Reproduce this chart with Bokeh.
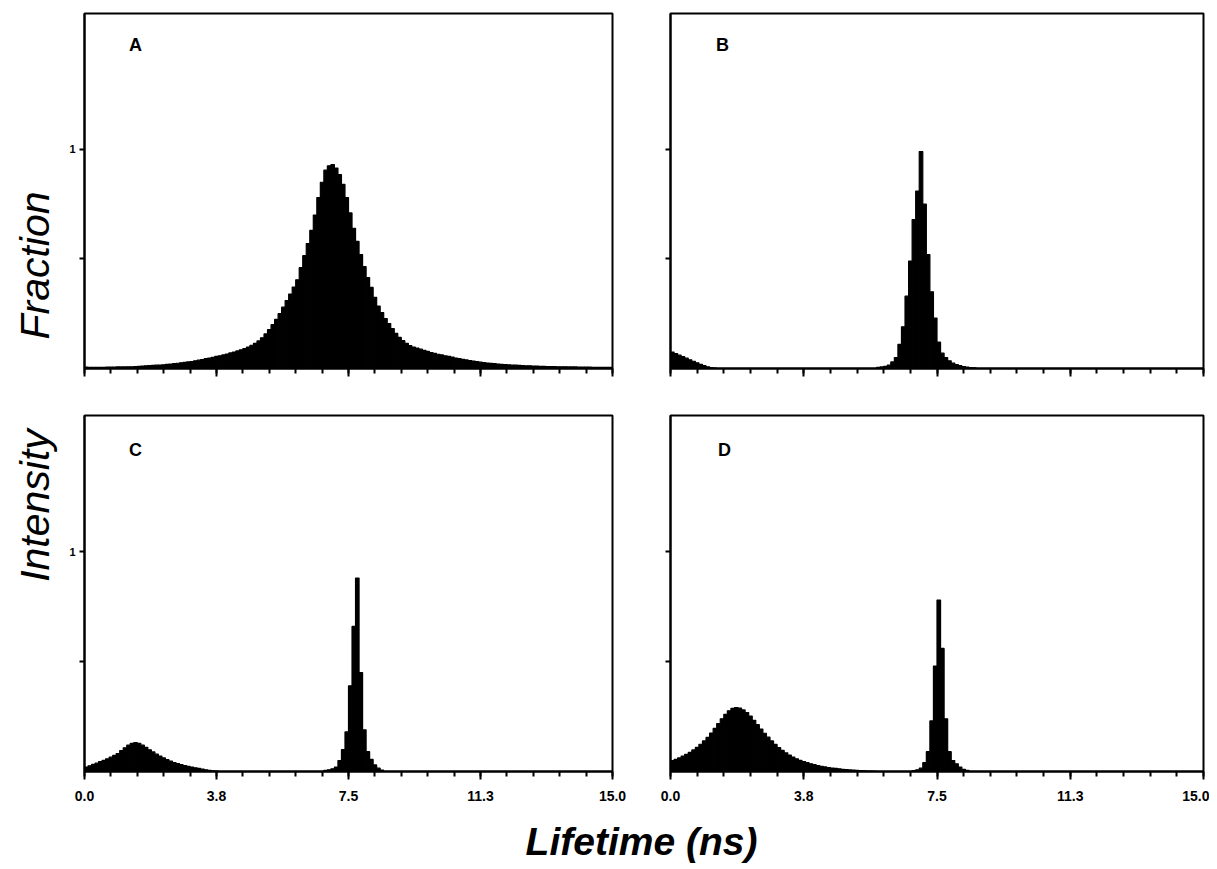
import math
from bokeh.plotting import figure
from bokeh.layouts import row, column
from bokeh.models import FixedTicker, Range1d, Label
from bokeh.embed import file_html
from bokeh.resources import INLINE

# ---------------- data (histogram bins of width 0.1 ns) ----------------
BIN_WIDTH = 0.1

a_start = 0.0
a_values = [
    0.006, 0.005, 0.005, 0.005, 0.005, 0.005, 0.006, 0.006, 0.006, 0.007,
    0.007, 0.007, 0.008, 0.008, 0.009, 0.010, 0.011, 0.012, 0.013, 0.014,
    0.015, 0.016, 0.017, 0.019, 0.020, 0.022, 0.024, 0.026, 0.028, 0.030,
    0.032, 0.035, 0.038, 0.041, 0.045, 0.048, 0.051, 0.055, 0.058, 0.062,
    0.066, 0.071, 0.075, 0.080, 0.085, 0.091, 0.098, 0.106, 0.115, 0.126,
    0.140, 0.158, 0.178, 0.200, 0.224, 0.250, 0.280, 0.310, 0.340, 0.372,
    0.405, 0.460, 0.515, 0.570, 0.630, 0.700, 0.780, 0.850, 0.905, 0.925,
    0.930, 0.915, 0.885, 0.840, 0.780, 0.710, 0.640, 0.580, 0.520, 0.465,
    0.415, 0.370, 0.325, 0.285, 0.255, 0.228, 0.205, 0.182, 0.160, 0.142,
    0.127, 0.115, 0.104, 0.098, 0.093, 0.088, 0.083, 0.078, 0.073, 0.069,
    0.065, 0.062, 0.058, 0.055, 0.052, 0.048, 0.045, 0.042, 0.039, 0.036,
    0.034, 0.031, 0.029, 0.027, 0.025, 0.023, 0.022, 0.020, 0.019, 0.018,
    0.017, 0.016, 0.015, 0.014, 0.013, 0.012, 0.012, 0.011, 0.011, 0.010,
    0.010, 0.009, 0.009, 0.009, 0.008, 0.008, 0.008, 0.007, 0.007, 0.007,
    0.006, 0.006, 0.006, 0.006, 0.005, 0.005, 0.005, 0.005, 0.005, 0.005,
]

b_low_start = 0.0
b_low_values = [0.075, 0.068, 0.061, 0.054, 0.047, 0.040, 0.033, 0.026,
                0.019, 0.013, 0.008, 0.004, 0.002]
b_peak_start = 5.8
b_peak_values = [0.005, 0.007, 0.010, 0.015, 0.030, 0.050, 0.110, 0.190,
                 0.330, 0.490, 0.680, 0.810, 0.990, 0.750, 0.520, 0.350,
                 0.230, 0.120, 0.070, 0.050, 0.035, 0.025, 0.018, 0.013,
                 0.009, 0.006, 0.004, 0.003]

c_low_start = 0.0
c_low_values = [0.020, 0.026, 0.032, 0.038, 0.045, 0.051, 0.058, 0.065,
                0.073, 0.082, 0.095, 0.108, 0.120, 0.128, 0.131, 0.128,
                0.120, 0.110, 0.099, 0.089, 0.079, 0.070, 0.062, 0.054,
                0.047, 0.041, 0.036, 0.031, 0.027, 0.023, 0.020, 0.017,
                0.014, 0.011, 0.008, 0.005, 0.003, 0.002]
c_peak_start = 6.8
c_peak_values = [0.005, 0.008, 0.012, 0.020, 0.050, 0.100, 0.180, 0.390,
                 0.660, 0.880, 0.450, 0.190, 0.090, 0.055, 0.030, 0.015,
                 0.006]

d_low_start = 0.0
d_low_values = [0.050, 0.055, 0.062, 0.070, 0.078, 0.087, 0.098, 0.110,
                0.124, 0.139, 0.155, 0.175, 0.196, 0.218, 0.240, 0.260,
                0.276, 0.287, 0.291, 0.288, 0.280, 0.268, 0.252, 0.233,
                0.213, 0.193, 0.174, 0.156, 0.139, 0.123, 0.109, 0.096,
                0.085, 0.075, 0.066, 0.058, 0.051, 0.045, 0.040, 0.035,
                0.031, 0.027, 0.024, 0.021, 0.018, 0.016, 0.014, 0.012,
                0.010, 0.009, 0.007, 0.006, 0.005, 0.004, 0.003, 0.002,
                0.002, 0.001]
d_peak_start = 6.8
d_peak_values = [0.004, 0.008, 0.015, 0.040, 0.090, 0.230, 0.480, 0.780,
                 0.560, 0.240, 0.090, 0.050, 0.035, 0.020, 0.010, 0.005]

x_major_ticks = [0, 3.75, 7.5, 11.25, 15]
x_tick_labels = ["0.0", "3.8", "7.5", "11.3", "15.0"]
x_minor_ticks = [0.75 * i for i in range(21)]
y_ticks = [0.5, 1.0]
y_tick_labels = ["", "1"]
panel_letters = ["A", "B", "C", "D"]
x_label = "Lifetime (ns)"
y_label_upper = "Fraction"
y_label_lower = "Intensity"

# ---------------- style / layout ----------------
FONT = "Liberation Sans"
X_MAX = 15.0
Y_MAX = 1.62


def add_bars(p, start, values):
    lefts = [round(start + i * BIN_WIDTH, 4) for i in range(len(values))]
    rights = [round(l + BIN_WIDTH, 4) for l in lefts]
    p.quad(left=lefts, right=rights, bottom=0, top=values,
           fill_color="black", line_color="black", line_width=1.2)


def make_panel(letter, fw, fh, bl, br, bt, bb, show_x, show_y, letter_x, letter_dy):
    p = figure(frame_width=fw, frame_height=fh,
               x_range=Range1d(0, X_MAX), y_range=Range1d(0, Y_MAX),
               output_backend="svg", toolbar_location=None,
               min_border_left=bl, min_border_right=br,
               min_border_top=bt, min_border_bottom=bb)
    p.title.visible = False
    p.grid.visible = False
    p.background_fill_color = "white"
    p.border_fill_color = "white"
    p.outline_line_color = "black"
    p.outline_line_width = 2

    xa = p.xaxis[0]
    xa.ticker = FixedTicker(ticks=x_major_ticks, minor_ticks=x_minor_ticks)
    xa.axis_line_width = 2
    xa.major_tick_in = 0
    xa.major_tick_out = 8
    xa.minor_tick_in = 0
    xa.minor_tick_out = 5
    xa.major_tick_line_width = 2
    xa.minor_tick_line_width = 2
    if show_x:
        xa.major_label_overrides = dict(zip(x_major_ticks, x_tick_labels))
        xa.major_label_text_font = FONT
        xa.major_label_text_font_style = "bold"
        xa.major_label_text_font_size = "14px"
        xa.major_label_text_color = "black"
        xa.major_label_standoff = 11
    else:
        xa.major_label_overrides = {t: "" for t in x_major_ticks}
        xa.major_label_text_font_size = "0px"
        xa.major_label_standoff = 0

    ya = p.yaxis[0]
    ya.ticker = FixedTicker(ticks=y_ticks, minor_ticks=[])
    ya.axis_line_width = 2
    ya.major_tick_in = 0
    ya.major_tick_out = 5
    ya.minor_tick_in = 0
    ya.minor_tick_out = 0
    ya.major_tick_line_width = 2
    if show_y:
        ya.major_label_overrides = dict(zip(y_ticks, y_tick_labels))
        ya.major_label_text_font = FONT
        ya.major_label_text_font_style = "bold"
        ya.major_label_text_font_size = "11px"
        ya.major_label_text_color = "black"
        ya.major_label_standoff = 4
    else:
        ya.major_label_overrides = {t: "" for t in y_ticks}
        ya.major_label_text_font_size = "0px"
        ya.major_label_standoff = 0

    p.add_layout(Label(x=letter_x, y=Y_MAX - letter_dy * Y_MAX / fh, text=letter,
                       text_font=FONT, text_font_style="bold",
                       text_font_size="18px", text_align="center",
                       text_baseline="middle", text_color="black"))
    return p


# page has no margin: frames at A/C x 84..612, B/D x 670..1203; rows y 13..368, 415..771
pA = make_panel(panel_letters[0], 528, 355, 20, 29, 13, 23, False, True, 1.45, 31)
pB = make_panel(panel_letters[1], 533, 355, 29, 6, 13, 23, False, False, 1.46, 31)
pC = make_panel(panel_letters[2], 528, 356, 20, 29, 24, 36, True, True, 1.45, 34)
pD = make_panel(panel_letters[3], 533, 356, 29, 6, 24, 36, True, False, 1.52, 34)

add_bars(pA, a_start, a_values)
add_bars(pB, b_low_start, b_low_values)
add_bars(pB, b_peak_start, b_peak_values)
add_bars(pC, c_low_start, c_low_values)
add_bars(pC, c_peak_start, c_peak_values)
add_bars(pD, d_low_start, d_low_values)
add_bars(pD, d_peak_start, d_peak_values)

TOTAL_H = 391 + 416 + 60  # = 867

# y label column
YL_W, YL_H = 64, TOTAL_H
yl = figure(width=YL_W, height=YL_H, x_range=Range1d(0, YL_W), y_range=Range1d(0, YL_H),
            x_axis_type=None, y_axis_type=None, min_border=0,
            output_backend="svg", toolbar_location=None)
yl.title.visible = False
yl.grid.visible = False
yl.outline_line_color = None
yl.add_layout(Label(x=34, y=YL_H - 265, text=y_label_upper, angle=math.pi / 2,
                    text_font=FONT, text_font_style="italic", text_font_size="41px",
                    text_align="center", text_baseline="middle", text_color="black"))
yl.add_layout(Label(x=34, y=YL_H - 505, text=y_label_lower, angle=math.pi / 2,
                    text_font=FONT, text_font_style="italic", text_font_size="41px",
                    text_align="center", text_baseline="middle", text_color="black"))

# x label row
XL_W, XL_H = 1145, 60
xl = figure(width=XL_W, height=XL_H, x_range=Range1d(0, XL_W), y_range=Range1d(0, XL_H),
            x_axis_type=None, y_axis_type=None, min_border=0,
            output_backend="svg", toolbar_location=None)
xl.title.visible = False
xl.grid.visible = False
xl.outline_line_color = None
xl.add_layout(Label(x=641 - YL_W, y=TOTAL_H - 841, text=x_label,
                    text_font=FONT, text_font_style="bold italic", text_font_size="39px",
                    text_align="center", text_baseline="middle", text_color="black"))

layout = row(yl, column(row(pA, pB), row(pC, pD), xl))

open("out.html", "w").write(file_html(layout, INLINE))
